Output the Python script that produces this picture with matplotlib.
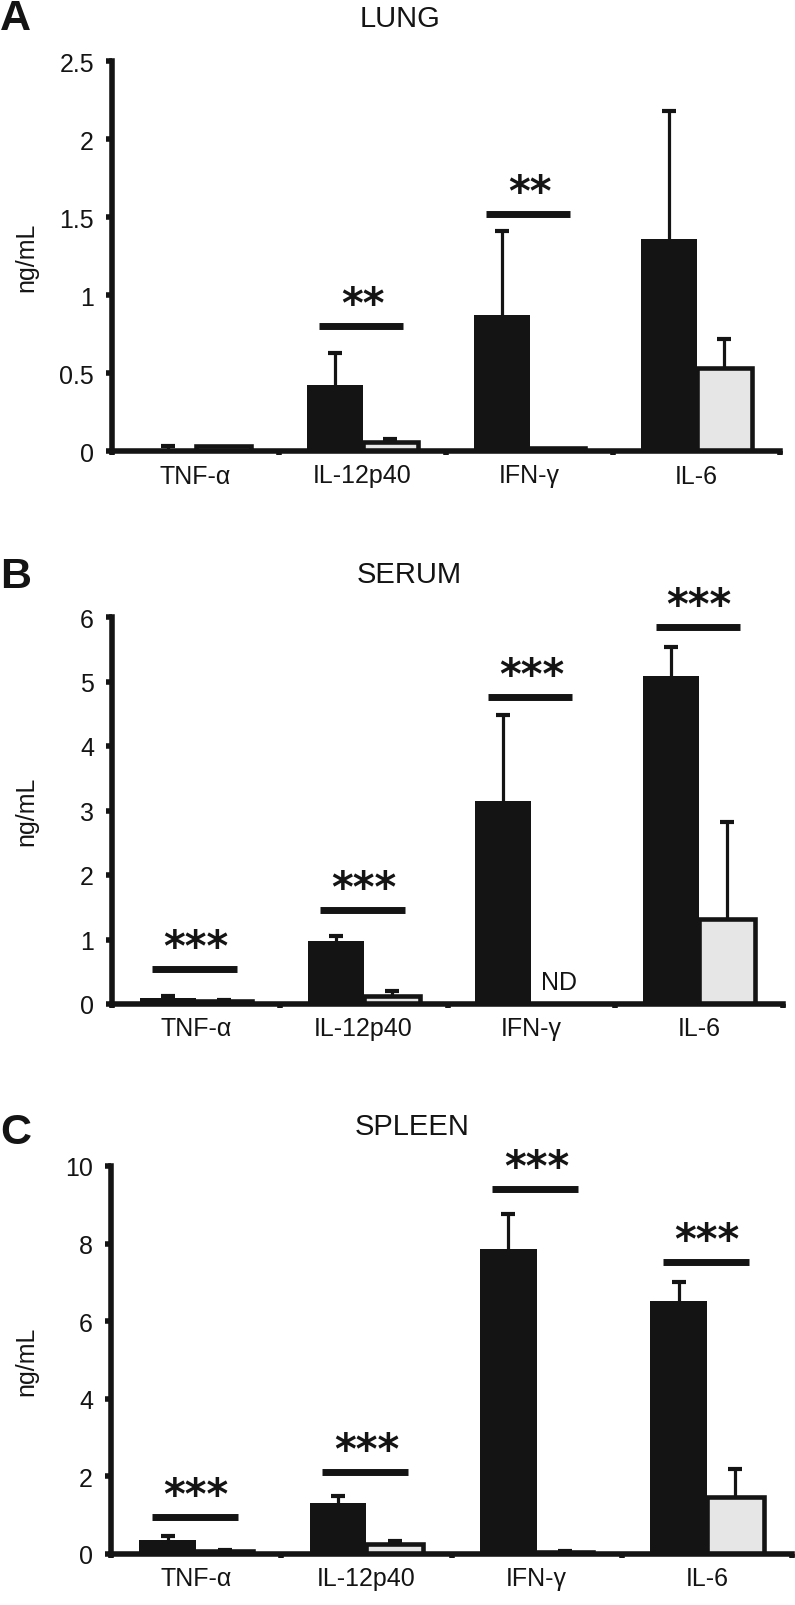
import numpy as np
import matplotlib
matplotlib.use("Agg")
import matplotlib.pyplot as plt
from matplotlib.ticker import FixedLocator, NullFormatter, FixedFormatter

plt.rcParams['font.family'] = ['Liberation Sans', 'DejaVu Sans']
INK = '#141414'

CATS = ['TNF-α', 'IL-12p40', 'IFN-γ', 'IL-6']

# ── Lung (ng/mL) ──
LUNG_BLACK     = [0.012, 0.42, 0.87, 1.36]
LUNG_BLACK_ERR = [0.02, 0.21, 0.54, 0.82]
LUNG_WHITE     = [0.03, 0.055, 0.02, 0.53]
LUNG_WHITE_ERR = [0.0, 0.025, 0.0, 0.19]
LUNG_SIG       = [None, '**', '**', None]
LUNG_SIG_Y     = [None, 0.80, 1.52, None]

# ── Serum ──
SERUM_BLACK     = [0.09, 0.97, 3.15, 5.08]
SERUM_BLACK_ERR = [0.04, 0.08, 1.33, 0.46]
SERUM_WHITE     = [0.04, 0.13, 0.0, 1.32]
SERUM_WHITE_ERR = [0.02, 0.07, 0.0, 1.50]
SERUM_SIG       = ['***', '***', '***', '***']
SERUM_SIG_Y     = [0.54, 1.46, 4.76, 5.84]

# ── Spleen ──
SPLEEN_BLACK     = [0.35, 1.32, 7.87, 6.51]
SPLEEN_BLACK_ERR = [0.11, 0.18, 0.90, 0.51]
SPLEEN_WHITE     = [0.07, 0.27, 0.06, 1.47]
SPLEEN_WHITE_ERR = [0.03, 0.06, 0.02, 0.71]
SPLEEN_SIG       = ['***', '***', '***', '***']
SPLEEN_SIG_Y     = [0.95, 2.12, 9.40, 7.52]

W, H = 795, 1606
fig = plt.figure(figsize=(W / 100, H / 100), dpi=100)


def px_axes(l, r, t, b):
    return fig.add_axes([l / W, 1 - b / H, (r - l) / W, (b - t) / H])


def fig_text(x, y, s, **kw):
    fig.text(x / W, 1 - y / H, s, **kw)


panels = [
    dict(letter='A', title='LUNG', rect=(112, 780, 62, 452), title_xy=(400, 19), letter_y=19,
         ymax=2.5, yticks=[0, 0.5, 1, 1.5, 2, 2.5],
         black=LUNG_BLACK, black_err=LUNG_BLACK_ERR, white=LUNG_WHITE, white_err=LUNG_WHITE_ERR,
         sig=LUNG_SIG, sig_y=LUNG_SIG_Y, nd=None),
    dict(letter='B', title='SERUM', rect=(112, 783, 618, 1005), title_xy=(409, 575), letter_y=577,
         ymax=6, yticks=[0, 1, 2, 3, 4, 5, 6],
         black=SERUM_BLACK, black_err=SERUM_BLACK_ERR, white=SERUM_WHITE, white_err=SERUM_WHITE_ERR,
         sig=SERUM_SIG, sig_y=SERUM_SIG_Y, nd=2),
    dict(letter='C', title='SPLEEN', rect=(111, 792, 1167, 1555), title_xy=(412, 1127), letter_y=1133,
         ymax=10, yticks=[0, 2, 4, 6, 8, 10],
         black=SPLEEN_BLACK, black_err=SPLEEN_BLACK_ERR, white=SPLEEN_WHITE, white_err=SPLEEN_WHITE_ERR,
         sig=SPLEEN_SIG, sig_y=SPLEEN_SIG_Y, nd=None),
]

bw = 1 / 3
x = np.arange(len(CATS)) + 0.5

for p in panels:
    l, r, t, b = p['rect']
    ax = px_axes(l, r, t, b)
    ax.bar(x - bw / 2, p['black'], bw, color=INK, zorder=2)
    ax.bar(x + bw / 2, p['white'], bw, color='#e6e6e6', edgecolor=INK, linewidth=3.3, zorder=2)

    # upper-only error bars: stem + cap at the top
    for xs, m, e in ((x - bw / 2, p['black'], p['black_err']), (x + bw / 2, p['white'], p['white_err'])):
        m = np.array(m); e = np.array(e)
        k = e > 0
        ax.vlines(xs[k], m[k], m[k] + e[k], color=INK, lw=2.3, zorder=1)
        ax.plot(xs[k], m[k] + e[k], ls='none', marker='_', ms=9.4, mew=3, color=INK, zorder=1)

    for i, (lab, sy) in enumerate(zip(p['sig'], p['sig_y'])):
        if lab is None:
            continue
        ax.plot([i + 0.24, i + 0.745], [sy, sy], color=INK, lw=5, solid_capstyle='butt',
                clip_on=False)
        ax.annotate(lab, (i + 0.5, sy), xytext=(0, 15), textcoords='offset points',
                    ha='center', va='center', fontsize=30, fontweight='bold',
                    family='DejaVu Sans', color=INK)

    if p['nd'] is not None:
        ax.text(p['nd'] + 0.5 + bw / 2, 0.16, 'ND', ha='center', va='bottom', fontsize=18, color=INK)

    ax.set_xlim(0, len(CATS))
    ax.set_ylim(0, p['ymax'])
    for s in ('top', 'right'):
        ax.spines[s].set_visible(False)
    for s in ('left', 'bottom'):
        ax.spines[s].set_linewidth(4)
        ax.spines[s].set_color(INK)

    ax.set_yticks(p['yticks'])
    ax.set_yticklabels([f'{v:g}' for v in p['yticks']])
    ax.tick_params(axis='y', direction='out', length=4, width=4, color=INK,
                   labelsize=18, labelcolor=INK, pad=9)
    ax.xaxis.set_major_locator(FixedLocator(range(len(CATS) + 1)))
    ax.xaxis.set_major_formatter(NullFormatter())
    ax.xaxis.set_minor_locator(FixedLocator(x))
    ax.xaxis.set_minor_formatter(FixedFormatter(CATS))
    ax.tick_params(axis='x', which='major', direction='out', length=3, width=4, color=INK)
    ax.tick_params(axis='x', which='minor', length=0, labelsize=18, labelcolor=INK, pad=9)

    fig_text(26, (t + b) / 2, 'ng/mL', rotation=90, ha='center', va='center', fontsize=18, color=INK)
    tx, ty = p['title_xy']
    fig_text(tx, ty, p['title'], ha='center', va='center', fontsize=21, color=INK)
    fig_text(0, p['letter_y'], p['letter'], ha='left', va='center', fontsize=31,
             fontweight='bold', color=INK)

fig.savefig('out.png', dpi=100)
